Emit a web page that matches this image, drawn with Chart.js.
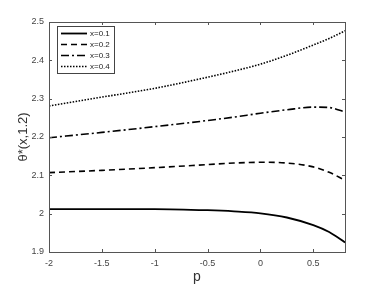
<!DOCTYPE html>
<html lang="en">
<head>
    <meta charset="UTF-8">
    <title>theta* vs p</title>
    <script src="https://cdn.jsdelivr.net/npm/chart.js"></script>
    <style>
        body {
            margin: 0;
            padding: 0;
            background: white;
        }
        .chart-box {
            width: 382px;
            height: 286px;
        }
    </style>
</head>
<body>
    <div class="chart-box"><canvas id="thetaChart"></canvas></div>

    <script>
        // values
        const pValues = [-2, -1.5, -1, -0.5, -0.25, 0, 0.25, 0.5, 0.65, 0.8];
        const theta01 = [2.012, 2.012, 2.012, 2.009, 2.006, 2.001, 1.990, 1.970, 1.952, 1.925];
        const theta02 = [2.107, 2.113, 2.120, 2.128, 2.132, 2.134, 2.132, 2.122, 2.108, 2.087];
        const theta03 = [2.198, 2.212, 2.227, 2.243, 2.252, 2.262, 2.271, 2.278, 2.277, 2.265];
        const theta04 = [2.281, 2.304, 2.327, 2.356, 2.372, 2.390, 2.413, 2.440, 2.457, 2.477];
        const seriesLabels = ['x=0.1', 'x=0.2', 'x=0.3', 'x=0.4'];
        const xTicks = [-2, -1.5, -1, -0.5, 0, 0.5];
        const yTicks = [1.9, 2, 2.1, 2.2, 2.3, 2.4, 2.5];

        const toPoints = (ys) => pValues.map((p, i) => ({ x: p, y: ys[i] }));

        const dashes = [[], [6, 4], [8, 3, 2, 3], [1.5, 1.5]];
        const widths = [1.8, 1.6, 1.6, 1.6];

        const datasets = [theta01, theta02, theta03, theta04].map((ys, i) => ({
            label: seriesLabels[i],
            data: toPoints(ys),
            borderColor: '#000',
            borderWidth: widths[i],
            borderDash: dashes[i],
            pointRadius: 0,
            fill: false,
            cubicInterpolationMode: 'monotone'
        }));

        // MATLAB-like box with inward ticks plus the legend inside the axes
        const boxPlugin = {
            id: 'boxPlugin',
            afterDatasetsDraw(chart) {
                const ctx = chart.ctx;
                const a = chart.chartArea;
                const xs = chart.scales.x, ys = chart.scales.y;
                ctx.save();
                ctx.strokeStyle = '#555';
                ctx.lineWidth = 1;
                ctx.setLineDash([]);
                ctx.strokeRect(a.left + 0.5, a.top + 0.5, a.right - a.left, a.bottom - a.top);
                ctx.beginPath();
                xTicks.forEach(v => {
                    const px = Math.round(xs.getPixelForValue(v)) + 0.5;
                    ctx.moveTo(px, a.bottom); ctx.lineTo(px, a.bottom - 3);
                    ctx.moveTo(px, a.top); ctx.lineTo(px, a.top + 3);
                });
                yTicks.forEach(v => {
                    const py = Math.round(ys.getPixelForValue(v)) + 0.5;
                    ctx.moveTo(a.left, py); ctx.lineTo(a.left + 3, py);
                    ctx.moveTo(a.right, py); ctx.lineTo(a.right - 3, py);
                });
                ctx.stroke();

                // legend
                const lx = a.left + 8, ly = a.top + 4, lw = 57, lh = 47;
                ctx.fillStyle = '#fff';
                ctx.fillRect(lx, ly, lw, lh);
                ctx.strokeStyle = '#444';
                ctx.strokeRect(lx + 0.5, ly + 0.5, lw, lh);
                ctx.font = '8px "Liberation Sans", Arial, sans-serif';
                ctx.textBaseline = 'middle';
                chart.data.datasets.forEach((ds, i) => {
                    const y = ly + 7.5 + i * 11;
                    ctx.strokeStyle = '#000';
                    ctx.lineWidth = ds.borderWidth;
                    ctx.setLineDash(ds.borderDash);
                    ctx.beginPath();
                    ctx.moveTo(lx + 4, y);
                    ctx.lineTo(lx + 30, y);
                    ctx.stroke();
                    ctx.fillStyle = '#222';
                    ctx.fillText(ds.label, lx + 33, y);
                });
                ctx.restore();
            }
        };

        const tickFont = { size: 9, family: '"Liberation Sans", Arial, sans-serif' };

        new Chart(document.getElementById('thetaChart'), {
            type: 'line',
            data: { datasets: datasets },
            options: {
                responsive: true,
                maintainAspectRatio: false,
                animation: false,
                layout: { padding: { left: 0, right: 37, top: 22, bottom: 0 } },
                plugins: {
                    legend: { display: false },
                    tooltip: { enabled: false }
                },
                scales: {
                    x: {
                        type: 'linear',
                        min: -2,
                        max: 0.8,
                        afterBuildTicks: (s) => { s.ticks = xTicks.map(v => ({ value: v })); },
                        afterFit: (s) => { s.height = 34; },
                        grid: { display: false, drawTicks: false },
                        border: { display: false },
                        ticks: {
                            font: tickFont,
                            color: '#444',
                            padding: 6,
                            maxRotation: 0,
                            callback: (v) => String(+Number(v).toFixed(2))
                        },
                        title: {
                            display: true,
                            text: 'p',
                            font: { size: 14, family: '"Liberation Sans", Arial, sans-serif' },
                            color: '#333',
                            padding: { top: 0, bottom: 0 }
                        }
                    },
                    y: {
                        min: 1.9,
                        max: 2.5,
                        afterBuildTicks: (s) => { s.ticks = yTicks.map(v => ({ value: v })); },
                        afterFit: (s) => { s.width = 49; },
                        grid: { display: false, drawTicks: false },
                        border: { display: false },
                        ticks: {
                            font: tickFont,
                            color: '#444',
                            padding: 5,
                            callback: (v) => String(+Number(v).toFixed(2))
                        },
                        title: {
                            display: true,
                            text: 'θ*(x,1.2)',
                            font: { size: 13, family: '"Liberation Sans", Arial, sans-serif' },
                            color: '#333',
                            padding: { top: 16, bottom: 0 }
                        }
                    }
                }
            },
            plugins: [boxPlugin]
        });
    </script>
</body>
</html>
